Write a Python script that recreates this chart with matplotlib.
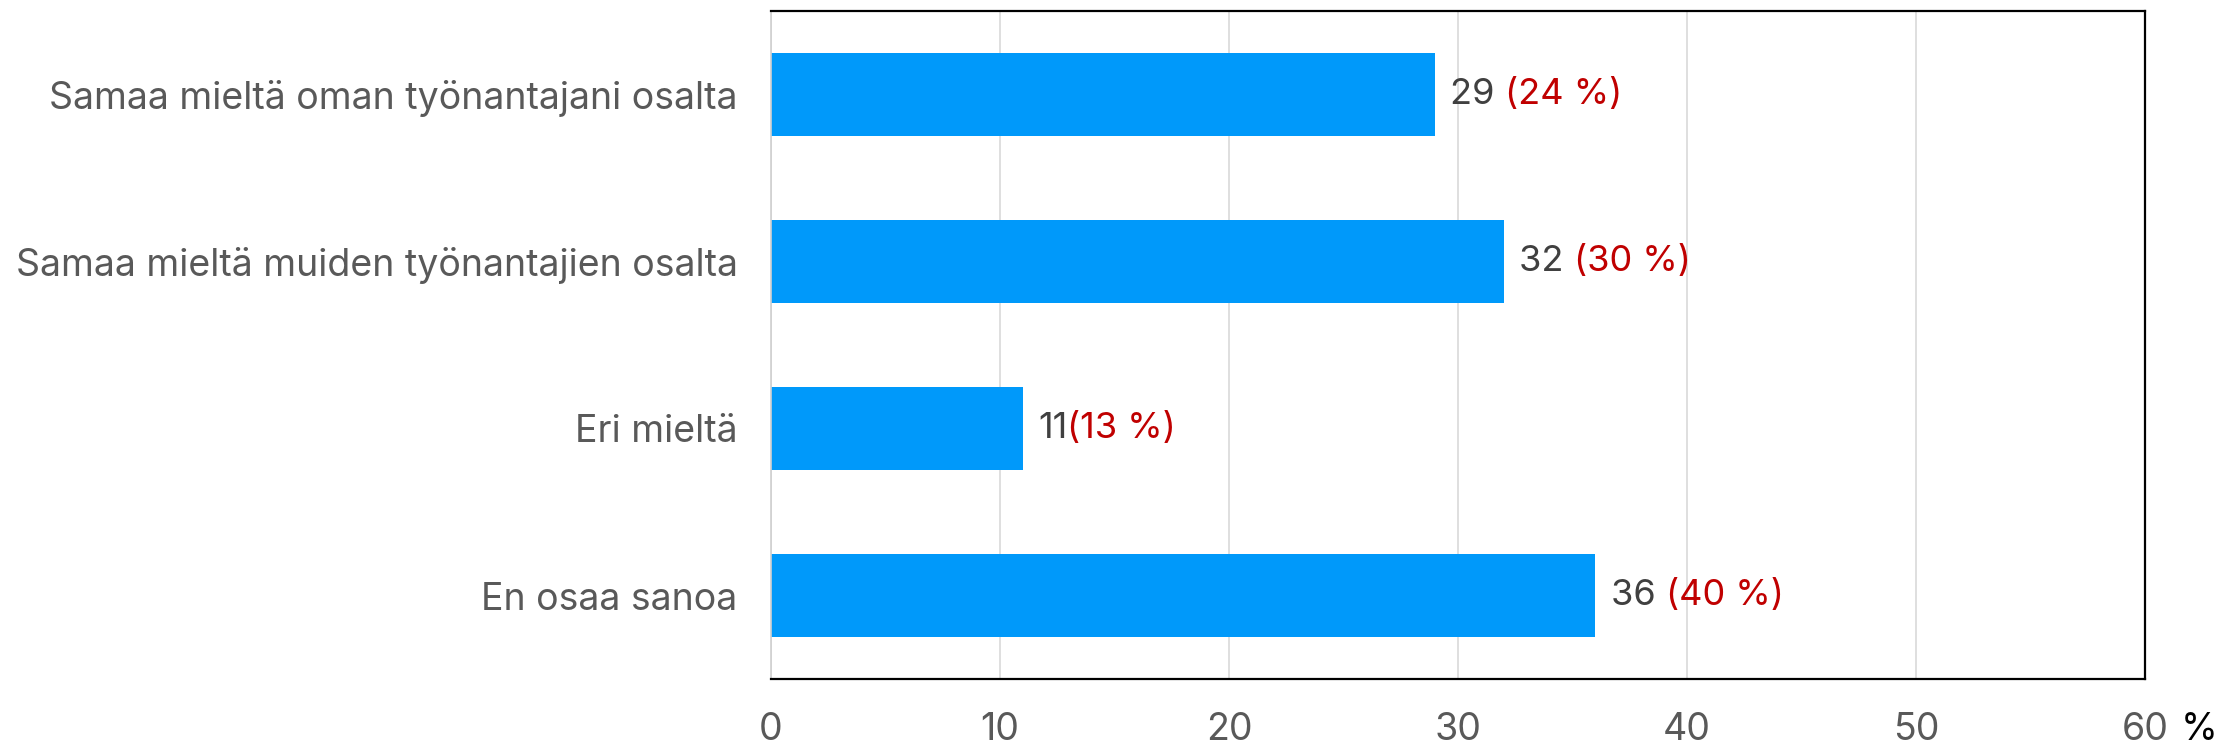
import matplotlib
matplotlib.use("Agg")
import matplotlib.pyplot as plt

# data
categories = [
    "Samaa mieltä oman työnantajani osalta",
    "Samaa mieltä muiden työnantajien osalta",
    "Eri mieltä",
    "En osaa sanoa",
]
values = [29, 32, 11, 36]
shares = ["(24 %)", "(30 %)", "(13 %)", "(40 %)"]
gaps = [" ", " ", "", " "]
xticks = [0, 10, 20, 30, 40, 50, 60]

plt.rcParams["font.family"] = ["Inter", "DejaVu Sans"]

fig = plt.figure(figsize=(22.26, 7.44), dpi=100)
ax = fig.add_axes([771 / 2226, 1 - 679 / 744, (2145 - 771) / 2226, (679 - 11) / 744])

ypos = list(range(len(categories)))
ax.barh(ypos, values, height=0.5, color="#0099fa", zorder=2)
ax.set_ylim(len(categories) - 0.5, -0.5)
ax.set_xlim(0, 60)

ax.set_yticks(ypos)
ax.set_yticklabels(categories, fontsize=27, color="#595959")
ax.set_xticks(xticks)
ax.set_xticklabels([str(t) for t in xticks], fontsize=27, color="#595959")
ax.tick_params(axis="y", length=0, pad=24)
ax.tick_params(axis="x", length=0, pad=24)

ax.grid(axis="x", color="#d9d9d9", linewidth=1.2, zorder=0)
for side in ["top", "right", "bottom"]:
    ax.spines[side].set_color("black")
    ax.spines[side].set_linewidth(1.6)
ax.spines["left"].set_color("#d0d0d0")
ax.spines["left"].set_linewidth(1.2)

# value labels: number in dark gray, share in red
for y, v, s, g in zip(ypos, values, shares, gaps):
    t = ax.annotate(str(v) + g, xy=(v, y), xytext=(11, 0), textcoords="offset points",
                    va="center", ha="left", fontsize=26, color="#404040")
    ax.annotate(s, xy=(1, 0.5), xycoords=t, va="center", ha="left",
                fontsize=26, color="#c00000")

ax.annotate("%", xy=(1, 0), xycoords="axes fraction", xytext=(26, -24),
            textcoords="offset points", ha="left", va="top", fontsize=27, color="black")

fig.savefig("out.png", dpi=100)
